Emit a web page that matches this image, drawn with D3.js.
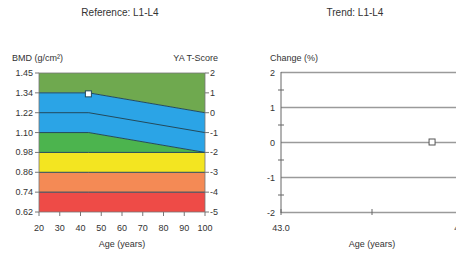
<!DOCTYPE html>
<html>
<head>
  <meta charset="utf-8"/>
  <title>Reference / Trend L1-L4</title>
  <script src="https://d3js.org/d3.v7.min.js"></script>
  <style>
    body { margin: 0; background: #fff; }
    text { font-family: "Liberation Sans", Arial, sans-serif; fill: #333; }
  </style>
</head>
<body>
<div id="chart"></div>
<script>
// reference chart data
var ageTicks = [20, 30, 40, 50, 60, 70, 80, 90, 100];
var tTicks = [2, 1, 0, -1, -2, -3, -4, -5];
var bmdLabels = ["1.45", "1.34", "1.22", "1.10", "0.98", "0.86", "0.74", "0.62"];
var curveAges = [20, 44, 100];
var upperT = [1, 1, 0];
var middleT = [0, 0, -1];
var lowerT = [-1, -1, -2];
var patientAge = [43.8];
var patientT = [0.95];

// trend chart data
var trendTicks = [2, 1, 0, -1, -2];
var trendMinor = [1.5, 0.5, -0.5, -1.5];
var trendAgeTicks = [43.0, 43.5, 44.0];
var trendAgeLabels = ["43.0", "", "44.0"];
var trendAge = [43.83];
var trendChange = [0];

var width = 456, height = 254;
var svg = d3.select("#chart").append("svg")
    .attr("width", width)
    .attr("height", height);

// ---------- left: reference ----------
var x = d3.scaleLinear().domain([20, 100]).range([39, 205]);
var y = d3.scaleLinear().domain([-5, 2]).range([212, 73]);

var curve = function(arr) {
  return curveAges.map(function(a, i) { return {age: a, t: arr[i]}; });
};

var bands = [
  {top: curve([2, 2, 2]), bottom: curve(upperT), color: "#6fa94f"},
  {top: curve(upperT), bottom: curve(lowerT), color: "#2ba4e6"},
  {top: curve(lowerT), bottom: curve([-2, -2, -2]), color: "#4cb44e"},
  {top: curve([-2, -2, -2]), bottom: curve([-3, -3, -3]), color: "#f3e521"},
  {top: curve([-3, -3, -3]), bottom: curve([-4, -4, -4]), color: "#f48a55"},
  {top: curve([-4, -4, -4]), bottom: curve([-5, -5, -5]), color: "#ee4b47"}
];

var area = function(b) {
  var pts = b.top.concat(b.bottom.slice().reverse());
  return d3.line().x(function(d) { return x(d.age); }).y(function(d) { return y(d.t); })(pts) + "Z";
};

svg.selectAll(".band").data(bands).enter().append("path")
    .attr("d", area)
    .attr("fill", function(d) { return d.color; });

var line = d3.line().x(function(d) { return x(d.age); }).y(function(d) { return y(d.t); });
[upperT, middleT, lowerT, [-2, -2, -2], [-3, -3, -3], [-4, -4, -4]].forEach(function(arr) {
  svg.append("path")
      .attr("d", line(curve(arr)))
      .attr("fill", "none")
      .attr("stroke", "#234a5c")
      .attr("stroke-width", 1);
});

svg.append("rect")
    .attr("x", 39).attr("y", 73).attr("width", 166).attr("height", 139)
    .attr("fill", "none").attr("stroke", "#777").attr("stroke-width", 0.8);

// left axis (BMD labels)
svg.selectAll(".bmd").data(tTicks).enter().append("text")
    .attr("x", 33).attr("y", function(d) { return y(d) + 3; })
    .attr("text-anchor", "end").attr("font-size", 9)
    .text(function(d, i) { return bmdLabels[i]; });
svg.selectAll(".ltick").data(tTicks).enter().append("line")
    .attr("x1", 35).attr("x2", 39)
    .attr("y1", function(d) { return y(d); }).attr("y2", function(d) { return y(d); })
    .attr("stroke", "#777");

// right axis (T-score)
svg.selectAll(".tscore").data(tTicks).enter().append("text")
    .attr("x", 210).attr("y", function(d) { return y(d) + 3; })
    .attr("font-size", 9)
    .text(function(d) { return d; });
svg.selectAll(".rtick").data(tTicks).enter().append("line")
    .attr("x1", 205).attr("x2", 209)
    .attr("y1", function(d) { return y(d); }).attr("y2", function(d) { return y(d); })
    .attr("stroke", "#777");

// x axis
svg.selectAll(".age").data(ageTicks).enter().append("text")
    .attr("x", function(d) { return x(d); }).attr("y", 231)
    .attr("text-anchor", "middle").attr("font-size", 9)
    .text(function(d) { return d; });
svg.selectAll(".xtick").data(ageTicks).enter().append("line")
    .attr("x1", function(d) { return x(d); }).attr("x2", function(d) { return x(d); })
    .attr("y1", 212).attr("y2", 216)
    .attr("stroke", "#777");

svg.selectAll(".pt").data(patientAge).enter().append("rect")
    .attr("x", function(d) { return x(d) - 3; })
    .attr("y", function(d, i) { return y(patientT[i]) - 3; })
    .attr("width", 6).attr("height", 6)
    .attr("fill", "#fff").attr("stroke", "#234a5c").attr("stroke-width", 1);

svg.append("text").attr("x", 120).attr("y", 16).attr("text-anchor", "middle")
    .attr("font-size", 10).text("Reference: L1-L4");
svg.append("text").attr("x", 12).attr("y", 61).attr("font-size", 9).text("BMD (g/cm²)");
svg.append("text").attr("x", 218).attr("y", 61).attr("text-anchor", "end")
    .attr("font-size", 9).text("YA T-Score");
svg.append("text").attr("x", 122).attr("y", 247).attr("text-anchor", "middle")
    .attr("font-size", 9).text("Age (years)");

// ---------- right: trend ----------
var x2 = d3.scaleLinear().domain([43.0, 44.0]).range([281, 463]);
var y2 = d3.scaleLinear().domain([-2, 2]).range([212.5, 72.5]);

svg.selectAll(".grid").data(trendTicks).enter().append("line")
    .attr("x1", 281).attr("x2", 463)
    .attr("y1", function(d) { return y2(d); }).attr("y2", function(d) { return y2(d); })
    .attr("stroke", "#9a9a9a").attr("stroke-width", 1.6);

svg.append("line").attr("x1", 281).attr("x2", 281).attr("y1", 72).attr("y2", 213)
    .attr("stroke", "#666").attr("stroke-width", 1);

svg.selectAll(".minor").data(trendMinor).enter().append("line")
    .attr("x1", 278).attr("x2", 284)
    .attr("y1", function(d) { return y2(d); }).attr("y2", function(d) { return y2(d); })
    .attr("stroke", "#666");

svg.selectAll(".cl").data(trendTicks).enter().append("text")
    .attr("x", 275).attr("y", function(d) { return y2(d) + 3; })
    .attr("text-anchor", "end").attr("font-size", 9)
    .text(function(d) { return d; });

svg.selectAll(".x2tick").data(trendAgeTicks).enter().append("line")
    .attr("x1", function(d) { return x2(d); }).attr("x2", function(d) { return x2(d); })
    .attr("y1", 209).attr("y2", 215)
    .attr("stroke", "#666");

svg.selectAll(".x2l").data(trendAgeTicks).enter().append("text")
    .attr("x", function(d) { return x2(d); }).attr("y", 231)
    .attr("text-anchor", "middle").attr("font-size", 9)
    .text(function(d, i) { return trendAgeLabels[i]; });

svg.selectAll(".tp").data(trendAge).enter().append("rect")
    .attr("x", function(d) { return x2(d) - 3; })
    .attr("y", function(d, i) { return y2(trendChange[i]) - 3.5; })
    .attr("width", 6).attr("height", 6)
    .attr("fill", "#fff").attr("stroke", "#555").attr("stroke-width", 1);

svg.append("text").attr("x", 355).attr("y", 16).attr("text-anchor", "middle")
    .attr("font-size", 10).text("Trend: L1-L4");
svg.append("text").attr("x", 270).attr("y", 61).attr("font-size", 9).text("Change (%)");
svg.append("text").attr("x", 372).attr("y", 247).attr("text-anchor", "middle")
    .attr("font-size", 9).text("Age (years)");
</script>
</body>
</html>
